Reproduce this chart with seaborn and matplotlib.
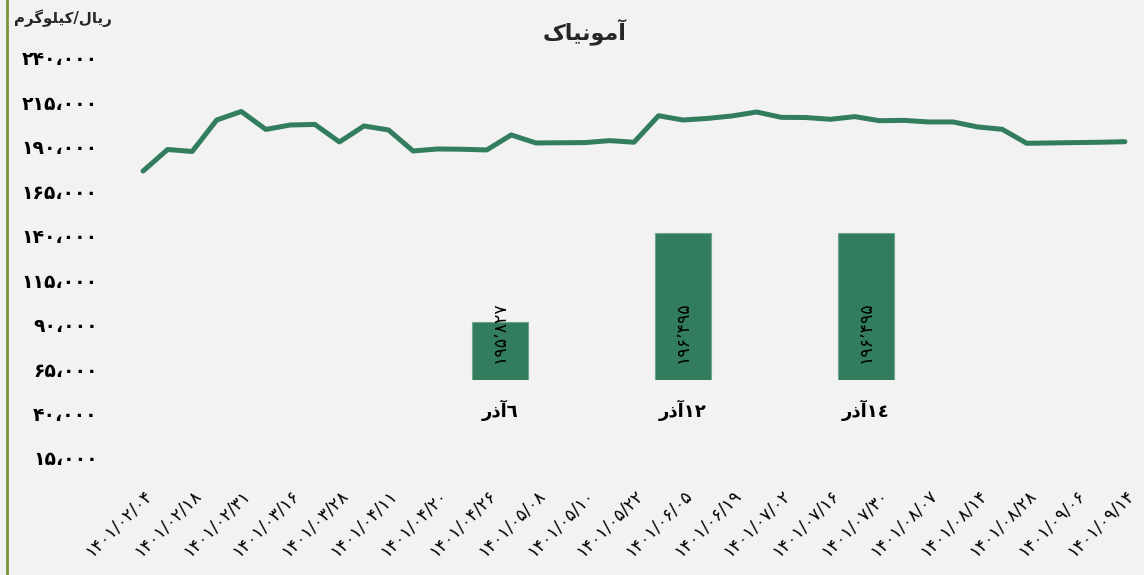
import numpy as np
import pandas as pd
import matplotlib
matplotlib.use("Agg")
import matplotlib.pyplot as plt
from matplotlib.lines import Line2D
from matplotlib.ticker import FixedLocator, FuncFormatter
import seaborn as sns

# قیمت آمونیاک (ریال/کیلوگرم) - هر نقطه یک تاریخ، برچسب هر دو نقطه
prices = [176400, 188500, 187400, 205100, 209900, 199800, 202300, 202600, 192750,
          201750, 199500, 187700, 188800, 188650, 188250, 196700, 192200, 192300,
          192400, 193500, 192600, 207500, 205100, 206000, 207400, 209600, 206600,
          206500, 205500, 207000, 204700, 204900, 204000, 204000, 201200, 199900,
          192000, 192200, 192400, 192600, 192900]
date_labels = ["1401/02/04", "1401/02/18", "1401/02/31", "1401/03/16", "1401/03/28",
               "1401/04/11", "1401/04/20", "1401/04/26", "1401/05/08", "1401/05/10",
               "1401/05/22", "1401/06/05", "1401/06/19", "1401/07/02", "1401/07/16",
               "1401/07/30", "1401/08/07", "1401/08/14", "1401/08/28", "1401/09/06",
               "1401/09/14"]
y_ticks = list(range(15000, 240001, 25000))

# ستون‌های آذر (روی محور جدا)
bar_days = ["٦", "١٢", "١٤"]
bar_values = [195827, 196495, 196495]

# متن‌ها به شکل نمایشی (حروف چسبیده، ترتیب چپ به راست)
title_txt = "\uFB8E\uFE8E\uFBFF\uFEE7\uFEEE\uFEE3\uFE81"            # آمونیاک
unit_txt = "\uFEE1\uFEAE\uFB94\uFEEE\uFEE0\uFBFF\uFB90/\uFEDD\uFE8E\uFBFE\uFEAD"  # ریال/کیلوگرم
azar_txt = "\uFEAD\uFEAB\uFE81"                                      # آذر

FA = str.maketrans("0123456789", "۰۱۲۳۴۵۶۷۸۹")


def to_fa(s):
    return s.translate(FA)


green = "#317D5E"
bg = "#F2F2F2"

sns.set_theme(style="white")
plt.rcParams["font.family"] = ["DejaVu Sans"]

fig = plt.figure(figsize=(11.44, 5.75), dpi=100, facecolor=bg)
ax = fig.add_axes([0.1049, 0.2035, 0.8872, 0.6957])
ax.set_facecolor("none")

df = pd.DataFrame({"idx": np.arange(len(prices)), "price": prices})
sns.lineplot(data=df, x="idx", y="price", ax=ax, color=green, linewidth=3.6,
             solid_capstyle="round", solid_joinstyle="round")

ax.set_ylim(15000, 240000)
ax.set_xlim(-0.94, len(prices) - 1 + 0.41)
ax.yaxis.set_major_locator(FixedLocator(y_ticks))
ax.yaxis.set_major_formatter(FuncFormatter(lambda v, p: to_fa(f"{int(v):,}").replace(",", "،")))
ax.set_xticks(np.arange(0, len(prices), 2))
ax.set_xticklabels([to_fa(d) for d in date_labels], rotation=45, ha="right",
                   rotation_mode="anchor", fontsize=12.5)
ax.tick_params(axis="x", length=0, pad=20, colors="black")
ax.tick_params(axis="y", length=0, pad=16, labelsize=13.5, colors="black")
for t in ax.get_yticklabels():
    t.set_fontweight("bold")
ax.set_xlabel("")
ax.set_ylabel("")
sns.despine(ax=ax, left=True, bottom=True)

# محور کوچک ستون‌ها
ax2 = fig.add_axes([0.3571, 0.3391, 0.4799, 0.3130])
ax2.set_facecolor("none")
bar_names = [azar_txt + d for d in bar_days]
sns.barplot(x=bar_names, y=bar_values, ax=ax2, color=green, saturation=1,
            width=0.31, edgecolor="#6FA58C", linewidth=0.8)
base = 195392
ax2.set_ylim(base, base + 180 * 7.503)
ax2.set_xlim(-0.5, 2.5)
for i, v in enumerate(bar_values):
    lbl = to_fa(f"{v:,}").replace(",", "٬")
    ax2.annotate(lbl, xy=(i, base), xytext=(0, 12), textcoords="offset points",
                 rotation=90, ha="center", va="bottom", fontsize=12.5, color="black")
ax2.set_yticks([])
ax2.tick_params(axis="x", length=0, pad=14, labelsize=13, colors="black")
for t in ax2.get_xticklabels():
    t.set_fontweight("bold")
ax2.set_xlabel("")
ax2.set_ylabel("")
sns.despine(ax=ax2, left=True, bottom=True)

fig.text(585 / 1144, 1 - 32 / 575, title_txt, ha="center", va="center",
         fontsize=16, fontweight="bold")
fig.text(112 / 1144, 1 - 18 / 575, unit_txt, ha="right", va="center",
         fontsize=10.8, fontweight="bold")
fig.add_artist(Line2D([7 / 1144, 7 / 1144], [0, 1], color="#77933C", linewidth=2))

fig.savefig("out.png", dpi=100, facecolor=bg)
